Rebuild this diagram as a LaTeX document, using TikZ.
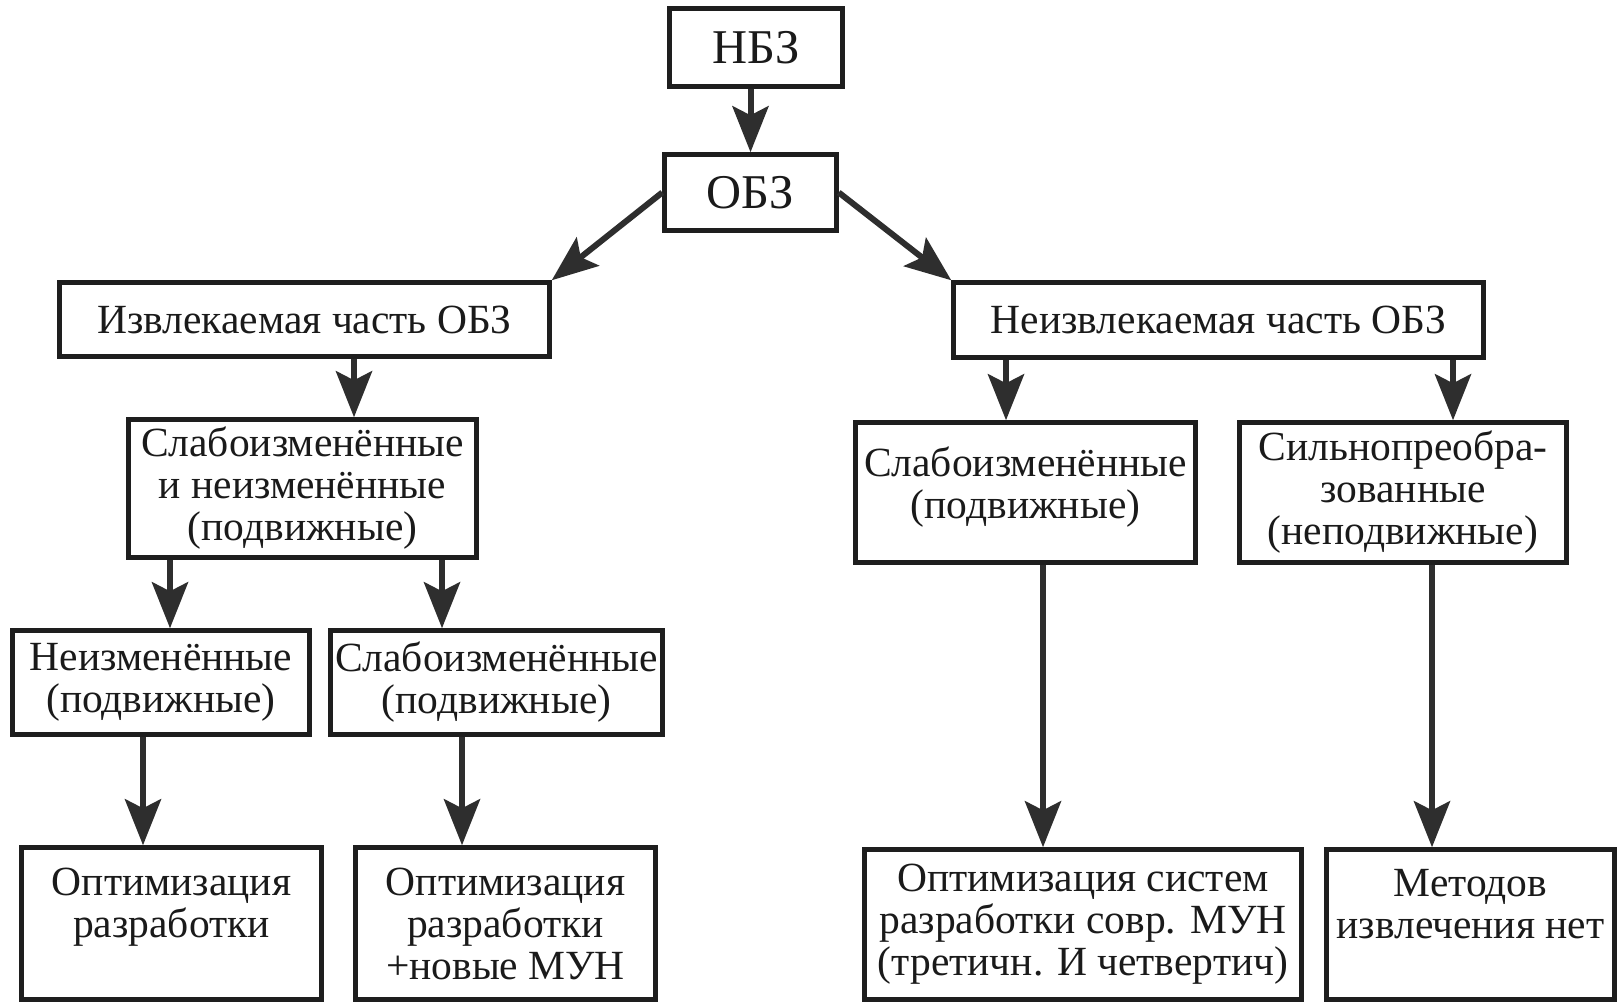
\documentclass[tikz,border=0pt]{standalone}
\usepackage{fontspec}
\setmainfont{Liberation Serif}
\usetikzlibrary{arrows.meta}
\definecolor{boxc}{HTML}{1E1E1E}
\definecolor{txtc}{HTML}{1A1A1A}
\definecolor{arrc}{HTML}{2E2E2E}
\begin{document}
\begin{tikzpicture}[x=1pt,y=-1pt,
  box/.style={draw=boxc, line width=4.5pt, align=center, inner sep=0pt, text=txtc,
    font=\fontsize{41.5}{42}\selectfont},
  bigbox/.style={box, font=\fontsize{48.5}{50}\selectfont},
  arr/.style={draw=arrc, line width=6pt, -{Stealth[length=46pt,width=36pt,inset=9pt]}}]
\fill[white] (0,0) rectangle (1618,1005);
\useasboundingbox (0,0) rectangle (1618,1005);

\node[bigbox, minimum width=173pt, minimum height=78pt] (nbz) at (756,47.5) {НБЗ};
\node[bigbox, minimum width=172pt, minimum height=76pt] (obz) at (750.5,192.5) {ОБЗ};

\node[box, minimum width=490pt, minimum height=74pt] (izv) at (304.5,319.5) {Извлекаемая часть ОБЗ};
\node[box, minimum width=530pt, minimum height=75pt] (neizv) at (1218.5,320) {Неизвлекаемая часть ОБЗ};

\node[box, minimum width=348pt, minimum height=138pt] (sn) at (302.5,488.5) {Слабоизменённые\\и неизменённые\\(подвижные)};
\node[box, minimum width=340pt, minimum height=140pt] (sr) at (1025.5,492.5) {Слабоизменённые\\(подвижные)\\[-22pt]\mbox{}};
\node[box, minimum width=327pt, minimum height=140pt] (sil) at (1403,492.5) {Сильнопреобра-\\зованные\\(неподвижные)};

\node[box, minimum width=297pt, minimum height=104pt] (neizm) at (161,682.5) {Неизменённые\\(подвижные)};
\node[box, minimum width=332pt, minimum height=104pt] (smid) at (496.5,682.5) {Слабоизменённые\\(подвижные)};

\node[box, minimum width=300pt, minimum height=152pt] (opt1) at (171.5,923.5) {Оптимизация\\разработки\\\mbox{}};
\node[box, minimum width=300pt, minimum height=152pt] (opt2) at (505.5,923.5) {Оптимизация\\разработки\\+новые МУН};
\node[box, minimum width=437pt, minimum height=150pt] (optsys) at (1083,924.5) {Оптимизация систем\\разработки совр. МУН\\(третичн. И четвертич)};
\node[box, minimum width=288pt, minimum height=150pt] (metod) at (1470.5,924.5) {Методов\\извлечения нет\\\mbox{}};

\coordinate (x2) at (354,0);
\coordinate (x3) at (1006,0);
\coordinate (x4) at (1453,0);
\coordinate (x5) at (170,0);
\coordinate (x6) at (442,0);
\coordinate (x7) at (143,0);
\coordinate (x8) at (462,0);
\coordinate (x9) at (1043,0);
\coordinate (x10) at (1432,0);

\draw[arr] (nbz.south -| obz.north) -- (obz.north);
\draw[arr] (obz.west) -- (izv.north east);
\draw[arr] (obz.east) -- (neizv.north west);
\draw[arr] (izv.south -| x2) -- (sn.north -| x2);
\draw[arr] (neizv.south -| x3) -- (sr.north -| x3);
\draw[arr] (neizv.south -| x4) -- (sil.north -| x4);
\draw[arr] (sn.south -| x5) -- (neizm.north -| x5);
\draw[arr] (sn.south -| x6) -- (smid.north -| x6);
\draw[arr] (neizm.south -| x7) -- (opt1.north -| x7);
\draw[arr] (smid.south -| x8) -- (opt2.north -| x8);
\draw[arr] (sr.south -| x9) -- (optsys.north -| x9);
\draw[arr] (sil.south -| x10) -- (metod.north -| x10);
\end{tikzpicture}
\end{document}
